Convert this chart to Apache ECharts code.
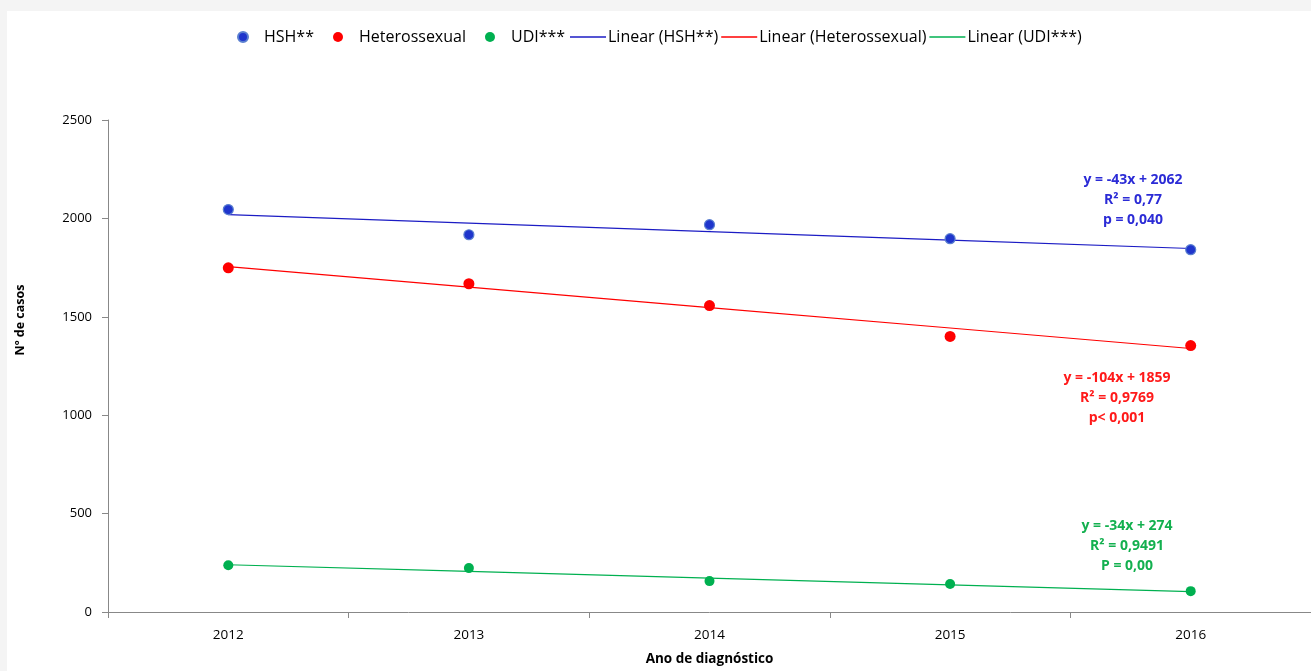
<!DOCTYPE html>
<html>
<head>
<meta charset="utf-8">
<script src="https://cdn.jsdelivr.net/npm/echarts@6/dist/echarts.min.js"></script>
<style>
html,body{margin:0;padding:0;background:#f4f4f4;overflow:hidden;}
#c{width:1311px;height:671px;}
</style>
</head>
<body>
<div id="c"></div>
<script>
var years = ['2012', '2013', '2014', '2015', '2016'];
var hsh = [2045, 1917, 1968, 1897, 1841];
var hetero = [1749, 1668, 1557, 1400, 1354];
var udi = [238, 223, 157, 142, 106];
var trendHsh = [2019, 1976, 1933, 1890, 1847];
var trendHetero = [1755, 1651, 1547, 1443, 1339];
var trendUdi = [240, 206, 172, 138, 104];
var yTicks = [0, 500, 1000, 1500, 2000, 2500];

var FONT = 'Open Sans';
var chart = echarts.init(document.getElementById('c'));

function ann(lines, color, cx, cy0) {
  return lines.map(function (t, i) {
    return {
      type: 'text', x: cx, y: cy0 + i * 20,
      style: { text: t, fill: color, font: 'bold 14px "' + FONT + '"', textAlign: 'center', textVerticalAlign: 'middle' }
    };
  });
}

var graphics = [{
  type: 'rect', shape: { x: 7, y: 11, width: 1304, height: 660 },
  style: { fill: '#ffffff' }, z: -10, silent: true
}, {
  type: 'text', x: 20, y: 320, rotation: Math.PI / 2,
  style: { text: 'Nº de casos', fill: '#000', font: 'bold 12.5px "' + FONT + '"', textAlign: 'center', textVerticalAlign: 'middle' }
}];
graphics = graphics.concat(
  ann(['y = -43x + 2062', 'R² = 0,77', 'p = 0,040'], '#2b2bd6', 1133, 180),
  ann(['y = -104x + 1859', 'R² = 0,9769', 'p< 0,001'], '#ff1a1a', 1117, 378),
  ann(['y = -34x + 274', 'R² = 0,9491', 'P = 0,00'], '#13b04f', 1127, 526)
);

var legendText = { fontFamily: FONT, fontSize: 16, color: '#000' };

chart.setOption({
  backgroundColor: 'transparent',
  animation: false,
  textStyle: { fontFamily: FONT },
  graphic: graphics,
  legend: [{
    top: 24, left: 232, itemGap: 19, itemWidth: 10, itemHeight: 10,
    textStyle: Object.assign({ padding: [0, 0, 0, 11] }, legendText),
    data: [
      { name: 'HSH**', icon: 'circle' },
      { name: 'Heterossexual', icon: 'circle' },
      { name: 'UDI***', icon: 'circle' }
    ]
  }, {
    top: 24, left: 565, itemGap: 3, itemWidth: 36, itemHeight: 1.3,
    textStyle: Object.assign({ padding: [0, 0, 0, -3] }, legendText),
    data: [
      { name: 'Linear (HSH**)', icon: 'rect' },
      { name: 'Linear (Heterossexual)', icon: 'rect' },
      { name: 'Linear (UDI***)', icon: 'rect' }
    ]
  }],
  grid: { left: 108, right: 0, top: 120, bottom: 50, containLabel: false },
  xAxis: {
    type: 'category', data: years, boundaryGap: true,
    name: 'Ano de diagnóstico', nameLocation: 'middle', nameGap: 40,
    nameTextStyle: { fontFamily: FONT, fontSize: 13.5, fontWeight: 'bold', color: '#000' },
    axisLine: { lineStyle: { color: '#888', width: 1 } },
    axisTick: { show: true, length: 6, lineStyle: { color: '#888' } },
    axisLabel: { fontFamily: FONT, fontSize: 13.5, color: '#000', margin: 16 },
    splitLine: { show: false }
  },
  yAxis: {
    type: 'value', min: 0, max: 2500, interval: 500,
    axisLine: { show: true, lineStyle: { color: '#888', width: 1 } },
    axisTick: { show: true, length: 6, inside: false, lineStyle: { color: '#888' } },
    axisLabel: { fontFamily: FONT, fontSize: 13, color: '#000', margin: 16,
      formatter: function (v) { return yTicks.indexOf(v) >= 0 ? String(v) : ''; } },
    splitLine: { show: false }
  },
  series: [
    { name: 'Linear (HSH**)', type: 'line', data: trendHsh, symbol: 'none', showSymbol: false,
      lineStyle: { color: '#1c1cc4', width: 1.2 }, itemStyle: { color: '#1c1cc4' }, z: 1 },
    { name: 'Linear (Heterossexual)', type: 'line', data: trendHetero, symbol: 'none', showSymbol: false,
      lineStyle: { color: '#ff0000', width: 1.2 }, itemStyle: { color: '#ff0000' }, z: 1 },
    { name: 'Linear (UDI***)', type: 'line', data: trendUdi, symbol: 'none', showSymbol: false,
      lineStyle: { color: '#00b050', width: 1.2 }, itemStyle: { color: '#00b050' }, z: 1 },
    { name: 'HSH**', type: 'scatter', data: hsh, symbol: 'circle', symbolSize: 10,
      itemStyle: { color: '#1f35cc', opacity: 1, borderColor: '#5a7fd0', borderWidth: 1.2 }, z: 3 },
    { name: 'Heterossexual', type: 'scatter', data: hetero, symbol: 'circle', symbolSize: 11,
      itemStyle: { color: '#ff0000', opacity: 1 }, z: 3 },
    { name: 'UDI***', type: 'scatter', data: udi, symbol: 'circle', symbolSize: 10,
      itemStyle: { color: '#00b050', opacity: 1 }, z: 3 }
  ]
});
</script>
</body>
</html>
